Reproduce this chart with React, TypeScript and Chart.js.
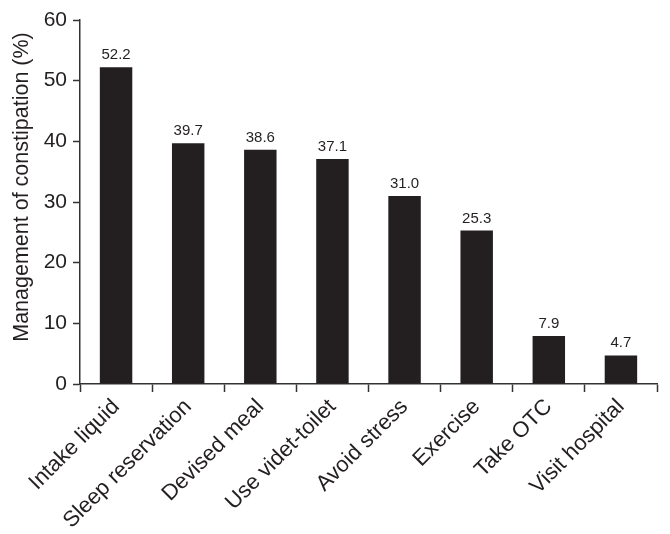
import React, { useEffect, useRef } from "react";
import { Chart, registerables } from "chart.js";

Chart.register(...registerables);

const categories = [
  "Intake liquid",
  "Sleep reservation",
  "Devised meal",
  "Use videt-toilet",
  "Avoid stress",
  "Exercise",
  "Take OTC",
  "Visit hospital",
];
const values = [52.2, 39.7, 38.6, 37.1, 31.0, 25.3, 7.9, 4.7];
const yTicks = [0, 10, 20, 30, 40, 50, 60];
const yTitle = "Management of constipation (%)";

const INK = "#231f20";
const FONT = "'Liberation Sans', Arial, Helvetica, sans-serif";

const valueLabels = {
  id: "valueLabels",
  afterDatasetsDraw(chart: any) {
    const ctx = chart.ctx;
    const meta = chart.getDatasetMeta(0);
    ctx.save();
    ctx.fillStyle = INK;
    ctx.font = `15px ${FONT}`;
    ctx.textAlign = "center";
    ctx.textBaseline = "alphabetic";
    meta.data.forEach((bar: any, i: number) => {
      ctx.fillText(values[i].toFixed(1), bar.x, bar.y - 8);
    });
    ctx.restore();
  },
};

const yTitlePlugin = {
  id: "yTitlePlugin",
  afterDraw(chart: any) {
    const ctx = chart.ctx;
    ctx.save();
    ctx.fillStyle = INK;
    ctx.font = `21.5px ${FONT}`;
    ctx.textAlign = "center";
    ctx.textBaseline = "middle";
    ctx.translate(22, 187);
    ctx.rotate(-Math.PI / 2);
    ctx.fillText(yTitle, 0, 0);
    ctx.restore();
  },
};

export default function App() {
  const ref = useRef<HTMLCanvasElement>(null);
  useEffect(() => {
    if (!ref.current) return;
    const chart = new Chart(ref.current, {
      type: "bar",
      data: {
        labels: categories,
        datasets: [
          {
            data: values,
            backgroundColor: INK,
            borderWidth: 0,
            barPercentage: 0.45,
            categoryPercentage: 1,
          },
        ],
      },
      options: {
        responsive: false,
        animation: false,
        devicePixelRatio: 1,
        layout: { padding: { top: 20, right: 13, left: 0, bottom: 0 } },
        plugins: {
          legend: { display: false },
          tooltip: { enabled: false },
        },
        scales: {
          x: {
            offset: true,
            grid: {
              display: true,
              offset: true,
              drawOnChartArea: false,
              drawTicks: true,
              tickLength: 8,
              tickWidth: 1.5,
              tickColor: "#333",
            },
            border: { display: true, color: "#333", width: 1.5 },
            ticks: {
              color: INK,
              font: { family: FONT, size: 22 },
              minRotation: 45,
              maxRotation: 45,
              autoSkip: false,
              padding: 2,
            },
            afterFit(scale: any) {
              scale.height = 150;
            },
          },
          y: {
            min: 0,
            max: 60,
            afterBuildTicks(scale: any) {
              scale.ticks = yTicks.map((v) => ({ value: v }));
            },
            grid: {
              display: true,
              drawOnChartArea: false,
              drawTicks: true,
              tickLength: 7,
              tickWidth: 1.5,
              tickColor: "#333",
            },
            border: { display: true, color: "#333", width: 1.5 },
            ticks: {
              color: INK,
              font: { family: FONT, size: 21 },
              padding: 6,
            },
            afterFit(scale: any) {
              scale.width = 80;
            },
          },
        },
      },
      plugins: [valueLabels, yTitlePlugin],
    });
    return () => chart.destroy();
  }, []);
  return (
    <div style={{ position: "fixed", left: 0, top: 0, width: 670, height: 534, background: "#fff" }}>
      <canvas ref={ref} width={670} height={534} />
    </div>
  );
}
